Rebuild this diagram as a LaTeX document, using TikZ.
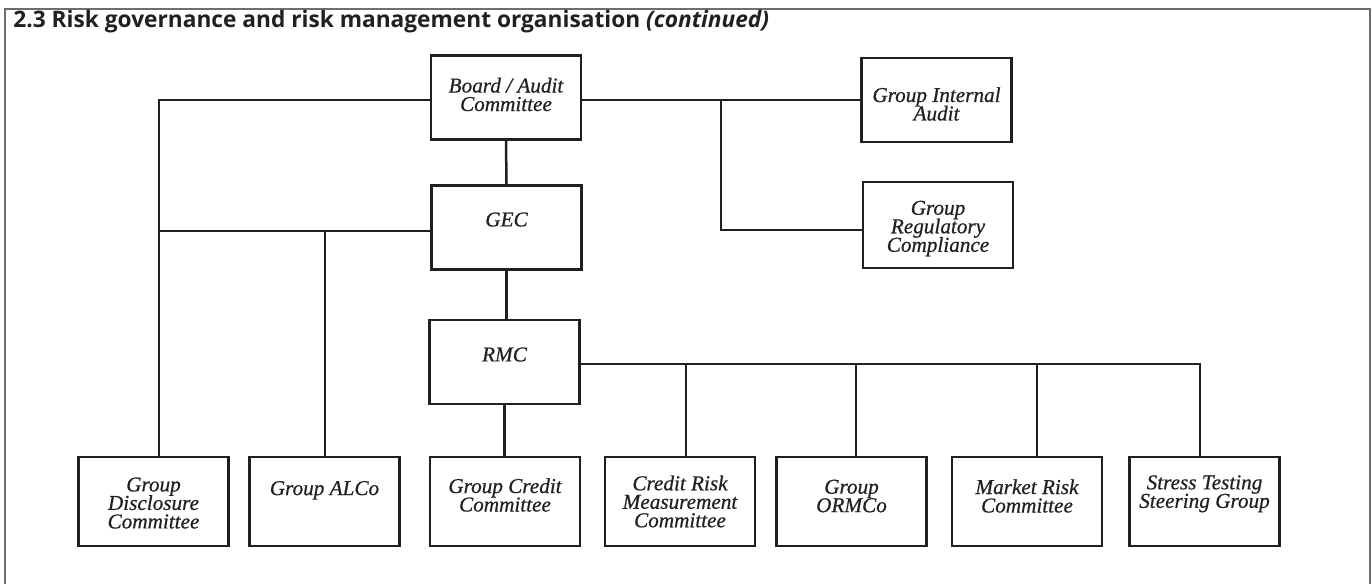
\documentclass[tikz,border=0pt]{standalone}
\usepackage{fontspec}
\newfontfamily\titlefont{Open Sans}
\newfontfamily\boxfont[FakeBold=0.6]{Liberation Serif}
\definecolor{ink}{HTML}{231F20}
\definecolor{framegray}{HTML}{6E6E6E}
\lineskiplimit=-100pt\relax
\lineskip=0pt\relax
\begin{document}
\begin{tikzpicture}[x=0.5pt,y=-0.5pt,
  box/.style={draw=ink, line width=1.45pt, inner sep=0pt, minimum width=75pt, minimum height=42pt},
  bbox/.style={box, minimum height=44.5pt},
  txt/.style={font=\boxfont\itshape\fontsize{10.6}{9.25}\selectfont, align=center, inner sep=0pt, text=ink},
  conn/.style={draw=ink, line width=1.25pt},
  frame/.style={draw=framegray, line width=0.8pt},
  ttl/.style={font=\titlefont\bfseries\fontsize{11.35}{13}\selectfont, anchor=base west, inner sep=0pt, text=ink}]
\useasboundingbox (0,0) rectangle (1372,584);
\draw[frame] (5,584) -- (5,9) -- (1370,9) -- (1370,584);
\node[ttl] (title) at (13,27.5) {2.3 Risk governance and risk management organisation \textit{(continued)}};

% boxes
\node[box] (board) at (506,97.5) {};
\node[box] (gia) at (936.5,100) {};
\node[box, minimum height=43pt] (grc) at (938,225) {};
\node[box] (gec) at (506.5,227.5) {};
\node[box] (rmc) at (504.5,362) {};
\node[bbox] (disc) at (153.5,501.5) {};
\node[bbox] (alco) at (324.5,501.5) {};
\node[bbox] (gcc) at (505,501.5) {};
\node[bbox] (crm) at (680,501.5) {};
\node[bbox] (ormc) at (851.5,501.5) {};
\node[bbox] (mrc) at (1027,501.5) {};
\node[bbox] (stg) at (1204.5,501.5) {};

% texts
\node[txt] (boardt) at ([yshift=1.5pt]board.center) {Board / Audit\\Committee};
\node[txt] (giat) at ([yshift=-2pt]gia.center) {Group Internal\\Audit};
\node[txt] (grct) at ([yshift=-1.75pt]grc.center) {Group\\Regulatory\\Compliance};
\node[txt] (gect) at ([yshift=4pt]gec.center) {GEC};
\node[txt] (rmct) at ([yshift=3.75pt]rmc.center) {RMC};
\node[txt] (disct) at ([yshift=-0.75pt]disc.center) {Group\\Disclosure\\Committee};
\node[txt] (alcot) at ([yshift=5.6pt]alco.center) {Group ALCo};
\node[txt] (gcct) at ([yshift=3.25pt]gcc.center) {Group Credit\\Committee};
\node[txt] (crmt) at (crm.center) {Credit Risk\\Measurement\\Committee};
\node[txt] (ormct) at ([yshift=2.75pt]ormc.center) {Group\\ORMCo};
\node[txt] (mrct) at ([yshift=2.75pt]mrc.center) {Market Risk\\Committee};
\node[txt] (stgt) at ([yshift=3.85pt]stg.center) {Stress Testing\\Steering Group};

% junctions
\coordinate (jTL) at (159,100);
\coordinate (jGEC) at (159,231);
\coordinate (jALCo) at (325,231);
\coordinate (jR) at (721,100);
\coordinate (jGRC) at (721,230);
\coordinate (jCRM) at (686,364);
\coordinate (jORM) at (856,364);
\coordinate (jMRC) at (1037,364);
\coordinate (jSTG) at (1200,364);

% connectors
\draw[conn] (board.west |- jTL) -- (jTL) -- (jTL |- disc.north);
\draw[conn] (gec.west |- jGEC) -- (jGEC);
\draw[conn] (jALCo) -- (jALCo |- alco.north);
\draw[conn] (board.south) -- (gec.north);
\draw[conn] (gec.south) -- (gec.south |- rmc.north);
\draw[conn] (rmc.south) -- (rmc.south |- gcc.north);
\draw[conn] (board.east |- jR) -- (gia.west |- jR);
\draw[conn] (jR) -- (jGRC) -- (grc.west |- jGRC);
\draw[conn] (rmc.east |- jCRM) -- (jSTG) -- (jSTG |- stg.north);
\draw[conn] (jCRM) -- (jCRM |- crm.north);
\draw[conn] (jORM) -- (jORM |- ormc.north);
\draw[conn] (jMRC) -- (jMRC |- mrc.north);
\end{tikzpicture}
\end{document}
